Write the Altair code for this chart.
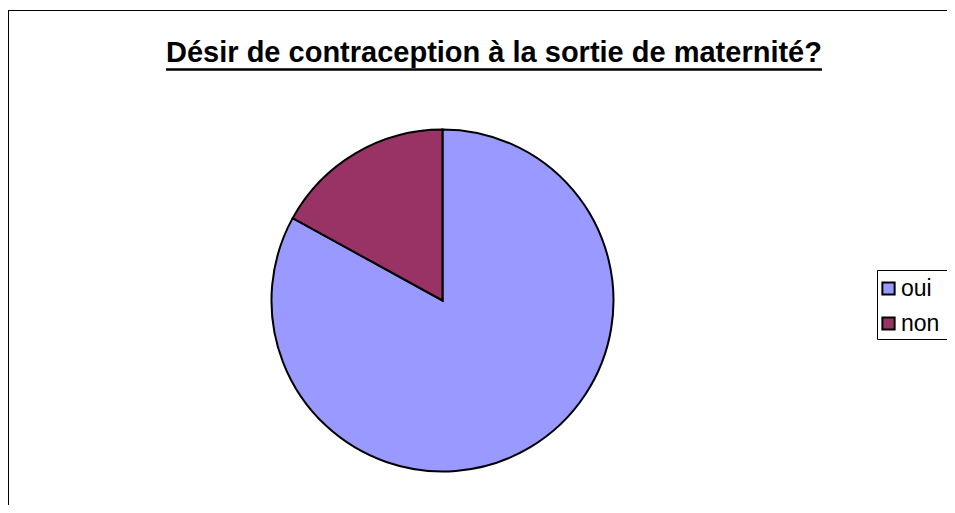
import altair as alt
import pandas as pd

categories = ["oui", "non"]
values = [83, 17]
colors = ["#9999FF", "#993366"]
title_text = "Désir de contraception à la sortie de maternité?"

df = pd.DataFrame({"cat": categories, "val": values, "order": [0, 1]})

W, H = 939, 497
FONT = "Liberation Sans"

pie = alt.Chart(df).mark_arc(stroke="black", strokeWidth=2, outerRadius=171).encode(
    theta=alt.Theta("val:Q", stack=True),
    color=alt.Color(
        "cat:N",
        scale=alt.Scale(domain=categories, range=colors),
        sort=categories,
        legend=alt.Legend(
            title=None,
            orient="none",
            legendX=869,
            legendY=269,
            padding=0,
            labelFont=FONT,
            labelFontSize=23,
            labelColor="black",
            labelOffset=1,
            symbolType="square",
            symbolSize=150,
            symbolStrokeColor="black",
            symbolStrokeWidth=2,
            symbolOpacity=1,
            rowPadding=11,
            labelLimit=300,
        ),
    ),
    order=alt.Order("order:Q"),
    x=alt.value(434.5),
    y=alt.value(292.5),
)

title_df = pd.DataFrame({"t": [title_text]})
title = alt.Chart(title_df).mark_text(
    font=FONT, fontSize=29, fontWeight="bold", baseline="alphabetic", align="center", color="black"
).encode(text="t:N", x=alt.value(486), y=alt.value(54))

underline = alt.Chart(title_df).mark_rule(color="black", strokeWidth=2.5).encode(
    x=alt.value(158), x2=alt.value(814), y=alt.value(61.5)
)

legend_box = alt.Chart(title_df).mark_rect(fill=None, stroke="black", strokeWidth=1).encode(
    x=alt.value(869.5), x2=alt.value(W + 20), y=alt.value(262.5), y2=alt.value(331.5)
)

frame_top = alt.Chart(title_df).mark_rule(color="black", strokeWidth=1).encode(
    x=alt.value(0), x2=alt.value(W + 20), y=alt.value(2.5)
)
frame_left = alt.Chart(title_df).mark_rule(color="black", strokeWidth=1).encode(
    x=alt.value(0.5), y=alt.value(2), y2=alt.value(H + 20)
)

chart = alt.layer(pie, title, underline, legend_box, frame_top, frame_left).properties(
    width=W, height=H, autosize=alt.AutoSizeParams(type="none"), padding=0
).configure_view(stroke=None)

chart.save("out.html", embed_options={"renderer": "svg", "actions": False})
